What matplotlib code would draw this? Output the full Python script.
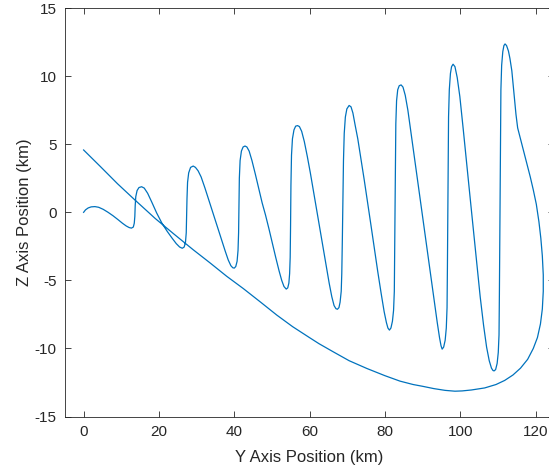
import matplotlib
matplotlib.use("Agg")
import matplotlib.pyplot as plt
import numpy as np

# oscillating leg of the trajectory (km)
climb_y = [0.0, 0.5, 1.2, 2.0, 3.0, 4.0, 5.2, 6.5, 7.8, 9.1, 10.3, 11.3, 12.1, 12.7, 13.2, 13.45, 13.6, 13.7, 13.85, 14.2, 14.7, 15.4,
           16.1, 17.0, 18.1, 19.4, 20.8, 22.2, 23.5, 24.6, 25.5, 26.2, 26.7, 27.05, 27.25, 27.35, 27.45, 27.6, 27.9, 28.4, 29.1,
           29.7, 30.4, 31.2, 32.2, 33.3, 34.4, 35.5, 36.6, 37.6, 38.4, 39.1, 39.6, 40.0, 40.4, 40.75, 41.0, 41.15, 41.25, 41.35, 41.55, 41.9, 42.35, 42.85,
           43.35, 43.95, 44.7, 45.6, 46.5, 47.4, 48.3, 49.2, 50.1, 51.0, 51.9, 52.6, 53.2, 53.8, 54.2, 54.5, 54.7, 54.85, 54.95, 55.05, 55.2, 55.45, 55.85, 56.3, 56.8,
           57.3, 57.9, 58.6, 59.4, 60.2, 61.0, 61.8, 62.6, 63.5, 64.4, 65.2, 65.9, 66.5, 67.0, 67.4, 67.8, 68.1, 68.4, 68.55, 68.7, 68.85, 69.0, 69.2, 69.5, 69.9, 70.5,
           71.0, 71.5, 72.1, 72.8, 73.6, 74.5, 75.4, 76.3, 77.2, 78.1, 79.0, 79.8, 80.4, 80.8, 81.2, 81.6, 82.0, 82.3, 82.5, 82.6, 82.7, 82.8, 82.9, 83.1, 83.4, 83.8, 84.3,
           84.8, 85.4, 86.1, 86.9, 87.7, 88.6, 89.5, 90.4, 91.3, 92.2, 93.1, 93.9, 94.5, 94.9, 95.2, 95.6, 96.0, 96.3, 96.5, 96.6, 96.7, 96.8, 96.9, 97.1, 97.4, 97.7, 98.1,
           98.6, 99.2, 99.9, 100.8, 101.7, 102.6, 103.5, 104.4, 105.3, 106.2, 107.0, 107.7, 108.3, 108.7, 109.0, 109.4, 109.8, 110.1, 110.3, 110.4, 110.5, 110.6, 110.7, 110.8, 111.0, 111.3, 111.6, 111.9]
climb_z = [0.0, 0.18, 0.32, 0.4, 0.42, 0.37, 0.22, 0.0, -0.25, -0.53, -0.8, -1.0, -1.12, -1.16, -1.08, -0.8, -0.3, 0.5, 1.15, 1.6, 1.82, 1.88,
           1.78, 1.4, 0.75, -0.05, -0.8, -1.4, -1.9, -2.3, -2.55, -2.64, -2.55, -2.2, -1.5, -0.3, 1.0, 2.2, 2.9, 3.3, 3.4,
           3.3, 3.05, 2.6, 1.8, 0.85, -0.1, -1.05, -2.0, -2.85, -3.5, -3.92, -4.07, -4.1, -3.98, -3.6, -2.8, -1.5, 0.5, 2.5, 3.8, 4.5, 4.8, 4.87,
           4.8, 4.5, 3.8, 2.8, 1.75, 0.7, -0.2, -1.2, -2.25, -3.3, -4.3, -5.0, -5.45, -5.64, -5.55, -5.2, -4.5, -3.3, -1.0, 2.0, 4.2, 5.4, 6.05, 6.33, 6.37,
           6.3, 5.95, 5.2, 4.1, 2.9, 1.6, 0.3, -1.0, -2.45, -3.9, -5.2, -6.2, -6.85, -7.08, -7.12, -7.0, -6.6, -5.8, -4.5, -2.0, 1.0, 3.8, 5.8, 7.0, 7.6, 7.85,
           7.75, 7.3, 6.4, 5.4, 4.0, 2.4, 0.75, -0.95, -2.65, -4.35, -5.95, -7.3, -8.1, -8.5, -8.65, -8.5, -8.0, -7.2, -5.8, -3.0, 0.5, 4.0, 6.5, 8.2, 9.0, 9.3, 9.36,
           9.2, 8.6, 7.5, 5.9, 4.3, 2.5, 0.7, -1.1, -2.9, -4.7, -6.5, -8.1, -9.2, -9.8, -10.05, -9.9, -9.4, -8.5, -7.0, -4.0, 0.0, 4.0, 7.0, 9.0, 10.2, 10.7, 10.88,
           10.7, 9.9, 8.5, 6.1, 3.6, 1.15, -1.3, -3.75, -6.2, -8.3, -9.9, -10.9, -11.45, -11.62, -11.65, -11.55, -11.1, -10.3, -9.0, -6.0, -2.0, 2.0, 6.0, 9.0, 10.8, 11.8, 12.25, 12.37]

# swing round and return leg (km)
return_y = [112.3, 112.8, 113.2, 113.7, 114.3, 114.8, 115.25, 116.0, 116.8, 117.7, 118.6, 119.4, 120.2, 120.9, 121.4, 121.8, 122.05, 122.05,
            121.8, 121.3, 120.5, 119.4, 117.9, 116.0, 114.0, 111.8, 109.5, 106.5, 103.0, 100.5, 98.6, 96.0, 93.0, 90.0, 87.5, 84.0,
            80.0, 75.2, 70.5, 66.3, 62.5, 59.9, 55.5, 51.3, 47.0, 42.4, 38.0, 33.5, 29.1, 24.0, 19.0, 13.65, 9.0, 4.5, 0.0]
return_z = [12.25, 11.85, 11.3, 10.4, 8.7, 7.2, 6.2, 5.4, 4.55, 3.6, 2.6, 1.65, 0.6, -0.7, -1.9, -3.2, -4.6, -5.8,
            -7.1, -8.2, -9.2, -10.0, -10.8, -11.45, -11.95, -12.35, -12.65, -12.9, -13.05, -13.12, -13.14, -13.08, -12.95, -12.78, -12.65, -12.4,
            -12.0, -11.47, -10.9, -10.25, -9.65, -9.19, -8.4, -7.55, -6.6, -5.6, -4.7, -3.7, -2.75, -1.6, -0.45, 0.9, 2.1, 3.35, 4.58]

x_ticks = [0, 20, 40, 60, 80, 100, 120]
y_ticks = [-15, -10, -5, 0, 5, 10, 15]

plt.rcParams['font.family'] = ['Liberation Sans', 'DejaVu Sans']
plt.rcParams['axes.unicode_minus'] = False

dark = (0.15, 0.15, 0.15)

fig = plt.figure(figsize=(5.49, 4.70), dpi=100)
ax = fig.add_axes([0.118, 0.1138, 0.8918, 0.8689])

y_path = np.concatenate([climb_y, return_y])
z_path = np.concatenate([climb_z, return_z])
ax.plot(y_path, z_path, color='#0072BD', linewidth=0.9)

ax.set_xlim(-5, 125)
ax.set_ylim(-15, 15)
ax.set_xticks(x_ticks)
ax.set_yticks(y_ticks)
ax.tick_params(direction='in', length=4.2, width=0.6, colors=dark, labelsize=11,
               top=True, right=True, pad=6)
for s in ax.spines.values():
    s.set_color(dark)
    s.set_linewidth(0.6)

ax.set_xlabel('Y Axis Position (km)', fontsize=12, color=dark, labelpad=8)
ax.set_ylabel('Z Axis Position (km)', fontsize=12, color=dark, labelpad=1.5)

fig.savefig('out.png', dpi=100)
